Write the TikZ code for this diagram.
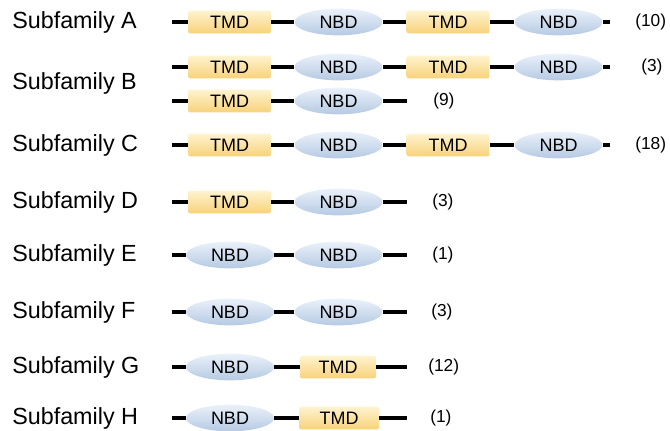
\documentclass[tikz,border=0pt]{standalone}
\usepackage{fontspec}
\setmainfont{Liberation Sans}
\usetikzlibrary{shapes.geometric}

\definecolor{tmdtop}{HTML}{FFF3CF}
\definecolor{tmdbot}{HTML}{F7D27A}
\definecolor{nbdtop}{HTML}{EAF1FA}
\definecolor{nbdbot}{HTML}{B6CAE3}

\tikzset{
  tmd/.style={rectangle, rounded corners=1.5pt, minimum width=62pt, minimum height=17pt,
    inner sep=0pt, top color=tmdtop, bottom color=tmdbot, font=\fontsize{13.5}{15}\selectfont},
  nbd/.style={ellipse, minimum width=66pt, minimum height=20pt, inner sep=0pt,
    top color=nbdtop, bottom color=nbdbot, font=\fontsize{13.5}{15}\selectfont},
  link/.style={line width=2.3pt},
  fam/.style={anchor=west, inner sep=0pt, font=\fontsize{17.5}{20}\selectfont},
  count/.style={anchor=west, inner sep=0pt, font=\fontsize{13}{15}\selectfont}
}

\begin{document}
\begin{tikzpicture}[x=0.75pt, y=-0.75pt]
    % Page frame in pixels
    \useasboundingbox (0,0) rectangle (670,430);

    % Subfamily A
    \node[fam] (famA) at (12,22) {Subfamily A};
    \coordinate (sA) at (172,22);
    \node[tmd] (tmdA1) at (229.5,22) {TMD};
    \node[nbd] (nbdA1) at (338.5,22) {NBD};
    \node[tmd] (tmdA2) at (448,22) {TMD};
    \node[nbd] (nbdA2) at (558.5,22) {NBD};
    \coordinate (eA) at (610,22);
    \draw[link] (sA) -- (tmdA1) -- (nbdA1) -- (tmdA2) -- (nbdA2) -- (eA);
    \node[count] (nA) at (635,22) {(10)};

    % Subfamily B, two members
    \node[fam] (famB) at (12,83) {Subfamily B};
    \coordinate (sB1) at (172,67);
    \node[tmd] (tmdB1) at (229.5,67) {TMD};
    \node[nbd] (nbdB1) at (338.5,67) {NBD};
    \node[tmd] (tmdB2) at (448,67) {TMD};
    \node[nbd] (nbdB2) at (558.5,67) {NBD};
    \coordinate (eB1) at (610,67);
    \draw[link] (sB1) -- (tmdB1) -- (nbdB1) -- (tmdB2) -- (nbdB2) -- (eB1);
    \node[count] (nB1) at (641,67) {(3)};

    \coordinate (sB2) at (172,101);
    \node[tmd] (tmdB3) at (229.5,101) {TMD};
    \node[nbd] (nbdB3) at (338.5,101) {NBD};
    \coordinate (eB2) at (407,101);
    \draw[link] (sB2) -- (tmdB3) -- (nbdB3) -- (eB2);
    \node[count] (nB2) at (433,101) {(9)};

    % Subfamily C
    \node[fam] (famC) at (12,145) {Subfamily C};
    \coordinate (sC) at (172,145);
    \node[tmd] (tmdC1) at (229.5,145) {TMD};
    \node[nbd] (nbdC1) at (338.5,145) {NBD};
    \node[tmd] (tmdC2) at (448,145) {TMD};
    \node[nbd] (nbdC2) at (558.5,145) {NBD};
    \coordinate (eC) at (610,145);
    \draw[link] (sC) -- (tmdC1) -- (nbdC1) -- (tmdC2) -- (nbdC2) -- (eC);
    \node[count] (nC) at (635,145) {(18)};

    % Subfamily D
    \node[fam] (famD) at (12,202) {Subfamily D};
    \coordinate (sD) at (172,202);
    \node[tmd] (tmdD) at (229.5,202) {TMD};
    \node[nbd] (nbdD) at (338.5,202) {NBD};
    \coordinate (eD) at (407,202);
    \draw[link] (sD) -- (tmdD) -- (nbdD) -- (eD);
    \node[count] (nD) at (432,202) {(3)};

    % Subfamily E
    \node[fam] (famE) at (12,255) {Subfamily E};
    \coordinate (sE) at (172,255);
    \node[nbd] (nbdE1) at (230,255) {NBD};
    \node[nbd] (nbdE2) at (338.5,255) {NBD};
    \coordinate (eE) at (407,255);
    \draw[link] (sE) -- (nbdE1) -- (nbdE2) -- (eE);
    \node[count] (nE) at (432,255) {(1)};

    % Subfamily F
    \node[fam] (famF) at (12,312) {Subfamily F};
    \coordinate (sF) at (172,312);
    \node[nbd] (nbdF1) at (230,312) {NBD};
    \node[nbd] (nbdF2) at (338.5,312) {NBD};
    \coordinate (eF) at (407,312);
    \draw[link] (sF) -- (nbdF1) -- (nbdF2) -- (eF);
    \node[count] (nF) at (431,312) {(3)};

    % Subfamily G
    \node[fam] (famG) at (12,367) {Subfamily G};
    \coordinate (sG) at (172,367);
    \node[nbd] (nbdG) at (230,367) {NBD};
    \node[tmd, minimum width=57pt] (tmdG) at (338,367) {TMD};
    \coordinate (eG) at (407,367);
    \draw[link] (sG) -- (nbdG) -- (tmdG) -- (eG);
    \node[count] (nG) at (428,367) {(12)};

    % Subfamily H
    \node[fam] (famH) at (12,418) {Subfamily H};
    \coordinate (sH) at (172,418);
    \node[nbd] (nbdH) at (230,418) {NBD};
    \node[tmd, minimum width=60pt] (tmdH) at (339,418) {TMD};
    \coordinate (eH) at (407,418);
    \draw[link] (sH) -- (nbdH) -- (tmdH) -- (eH);
    \node[count] (nH) at (430,418) {(1)};
\end{tikzpicture}
\end{document}
